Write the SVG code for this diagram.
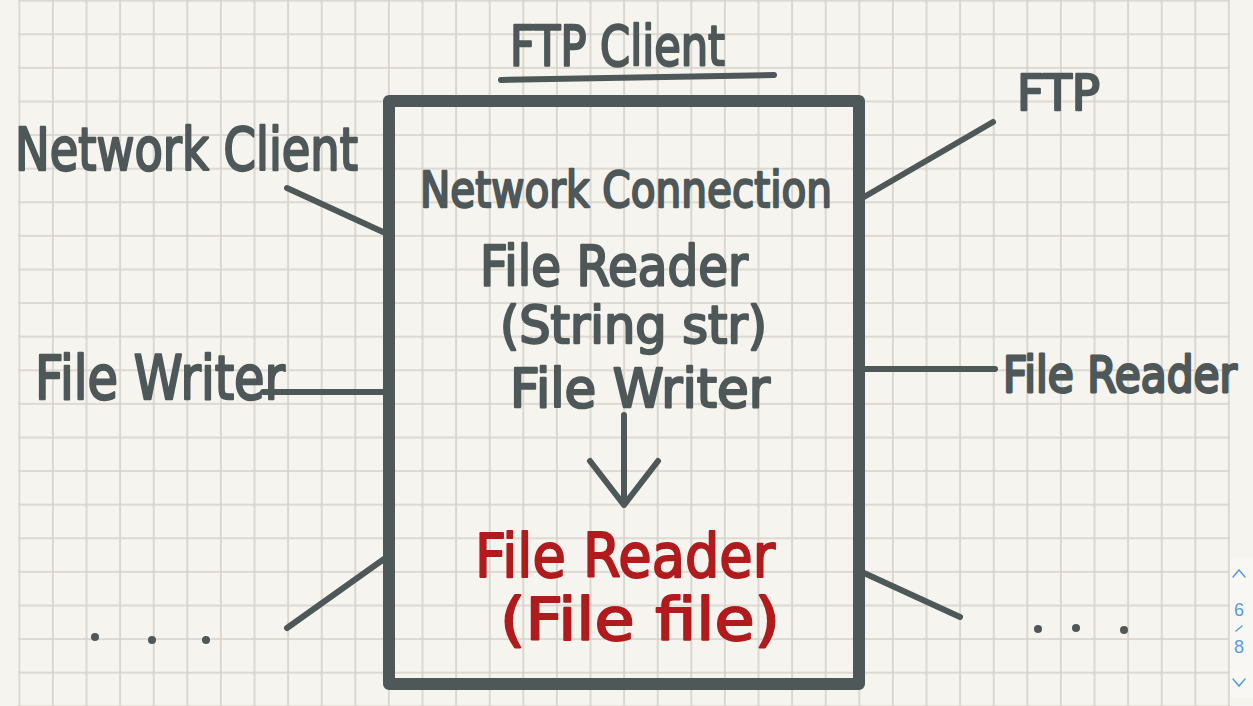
<svg xmlns="http://www.w3.org/2000/svg" width="1253" height="706" viewBox="0 0 1253 706">
<defs>
<pattern id="grid" x="18.3" y="-0.3" width="33.6" height="33.6" patternUnits="userSpaceOnUse">
<path d="M0 1H33.6M1 0V33.6" fill="none" stroke="#d5d1ca" stroke-width="1.6"/>
</pattern>
</defs>
<style>
.ink{fill:#4e5858;stroke:#4e5858;stroke-width:2.4;stroke-linejoin:round;font-family:"DejaVu Sans","Liberation Sans",sans-serif}
.red{fill:#b01b1e;stroke:#b01b1e;stroke-width:2;stroke-linejoin:round;font-family:"DejaVu Sans","Liberation Sans",sans-serif}
.ln{fill:none;stroke:#4e5858;stroke-width:6;stroke-linecap:round;stroke-linejoin:round}
.dot{fill:#4e5858}
.pg{fill:#5a9be0;font-family:"Liberation Sans",sans-serif;font-size:18px;text-anchor:middle}
</style>
<rect width="1253" height="706" fill="#f6f4ef"/>
<rect x="18.3" y="0" width="1211.6" height="706" fill="url(#grid)"/>

<g id="title">
<text class="ink" x="510" y="65" font-size="56" textLength="215" lengthAdjust="spacingAndGlyphs">FTP Client</text>
<path class="ln" d="M501 80L774 75"/>
</g>

<g id="box">
<rect x="389" y="101" width="470" height="583" fill="none" stroke="#4e5858" stroke-width="12" stroke-linejoin="round"/>
<text class="ink" x="420" y="207" font-size="50" textLength="412" lengthAdjust="spacingAndGlyphs">Network Connection</text>
<text class="ink" x="480" y="285" font-size="56" textLength="268" lengthAdjust="spacingAndGlyphs">File Reader</text>
<text class="ink" x="500" y="343" font-size="52" textLength="267" lengthAdjust="spacingAndGlyphs">(String str)</text>
<text class="ink" x="510" y="407" font-size="54" textLength="260" lengthAdjust="spacingAndGlyphs">File Writer</text>
<path class="ln" d="M624 415V505M590 461L624 505L658 461"/>
<text class="red" x="475" y="577" font-size="60" textLength="300" lengthAdjust="spacingAndGlyphs">File Reader</text>
<text class="red" x="500" y="640" font-size="58" textLength="280" lengthAdjust="spacingAndGlyphs">(File file)</text>
</g>

<g id="network-client">
<text class="ink" x="15" y="170" font-size="58" textLength="343" lengthAdjust="spacingAndGlyphs">Network Client</text>
</g>
<g id="ftp">
<text class="ink" x="1017" y="110" font-size="50" textLength="83" lengthAdjust="spacingAndGlyphs">FTP</text>
</g>
<g id="file-writer">
<text class="ink" x="35" y="399" font-size="60" textLength="250" lengthAdjust="spacingAndGlyphs">File Writer</text>
</g>
<g id="file-reader">
<text class="ink" transform="translate(1003 392) scale(1 1.2)" x="0" y="0" font-size="42" textLength="234" lengthAdjust="spacingAndGlyphs">File Reader</text>
</g>
<g id="more-left">
<circle class="dot" cx="95" cy="637" r="4"/>
<circle class="dot" cx="152" cy="640" r="4"/>
<circle class="dot" cx="206" cy="640" r="4"/>
</g>
<g id="more-right">
<circle class="dot" cx="1038" cy="629" r="4"/>
<circle class="dot" cx="1076" cy="628" r="4"/>
<circle class="dot" cx="1124" cy="630" r="4"/>
</g>

<g id="connectors">
<path class="ln" d="M287 188L383 232"/>
<path class="ln" d="M993 122L864 197"/>
<path class="ln" d="M263 392H383"/>
<path class="ln" d="M864 369H995"/>
<path class="ln" d="M287 628L384 559"/>
<path class="ln" d="M864 573L960 617"/>
</g>

<g id="page-indicator">
<rect x="1230" y="558" width="23" height="139" fill="#f8f7f3"/>
<polyline points="1233,577 1239,570 1245,577" fill="none" stroke="#5a9be0" stroke-width="1.5" stroke-linecap="round"/>
<text class="pg" x="1239" y="616">6</text>
<path d="M1236 631L1242 626" stroke="#5a9be0" stroke-width="1.5" stroke-linecap="round"/>
<text class="pg" x="1239" y="653">8</text>
<polyline points="1233,679 1239,686 1245,679" fill="none" stroke="#5a9be0" stroke-width="1.5" stroke-linecap="round"/>
</g>
</svg>
